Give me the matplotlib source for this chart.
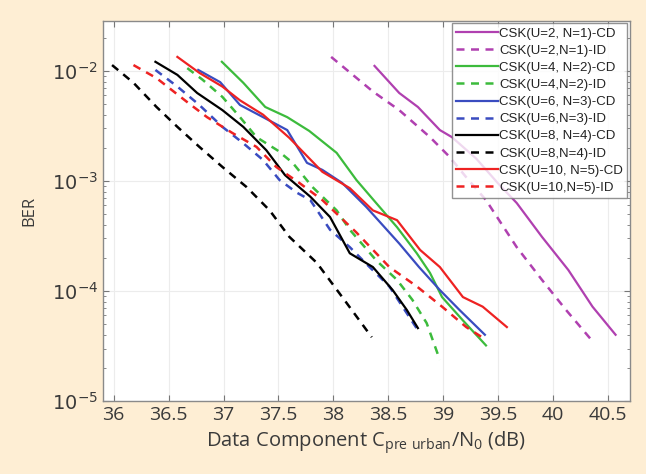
import matplotlib.pyplot as plt
from matplotlib.ticker import LogLocator, NullFormatter

# --- data (x in dB, BER) ---
x_u2_cd = [38.375, 38.60, 38.77, 38.97, 39.08, 39.30, 39.50, 39.67, 39.90, 40.14, 40.36, 40.57]
y_u2_cd = [1.11e-2, 6.3e-3, 4.7e-3, 2.9e-3, 2.5e-3, 1.6e-3, 9.5e-4, 6.3e-4, 3.1e-4, 1.55e-4, 7.2e-5, 4.0e-5]
x_u2_id = [37.98, 38.36, 38.60, 38.88, 39.06, 39.22, 39.39, 39.67, 39.90, 40.12, 40.37]
y_u2_id = [1.34e-2, 6.5e-3, 4.4e-3, 2.5e-3, 1.65e-3, 1.05e-3, 6.7e-4, 2.5e-4, 1.26e-4, 6.7e-5, 3.4e-5]

x_u4_cd = [36.985, 37.18, 37.38, 37.58, 37.78, 38.03, 38.21, 38.39, 38.58, 38.76, 38.88, 38.99, 39.18, 39.39]
y_u4_cd = [1.21e-2, 7.8e-3, 4.7e-3, 3.8e-3, 2.85e-3, 1.8e-3, 1.02e-3, 6.3e-4, 3.8e-4, 2.2e-4, 1.46e-4, 8.8e-5, 5.4e-5, 3.2e-5]
x_u4_id = [36.67, 36.81, 36.99, 37.15, 37.30, 37.49, 37.63, 37.81, 38.03, 38.15, 38.39, 38.58, 38.72, 38.85, 38.97]
y_u4_id = [1.06e-2, 8.3e-3, 5.8e-3, 3.8e-3, 2.5e-3, 1.9e-3, 1.46e-3, 8.8e-4, 5.4e-4, 3.6e-4, 1.9e-4, 1.26e-4, 8.3e-5, 5.1e-5, 2.36e-5]

x_u6_cd = [36.77, 36.97, 37.15, 37.36, 37.58, 37.76, 37.90, 38.08, 38.30, 38.60, 38.78, 38.97, 39.15, 39.38]
y_u6_cd = [1.02e-2, 7.9e-3, 4.9e-3, 3.8e-3, 2.9e-3, 1.46e-3, 1.26e-3, 9.6e-4, 5.8e-4, 2.7e-4, 1.65e-4, 1.02e-4, 6.7e-5, 4.0e-5]
x_u6_id = [36.38, 36.58, 36.78, 36.99, 37.18, 37.36, 37.51, 37.67, 37.79, 37.97, 38.15, 38.33, 38.51, 38.63, 38.77]
y_u6_id = [1.02e-2, 7.2e-3, 4.9e-3, 3.1e-3, 2.2e-3, 1.55e-3, 1.02e-3, 7.8e-4, 6.7e-4, 3.6e-4, 2.5e-4, 1.65e-4, 1.1e-4, 7.2e-5, 4.4e-5]

x_u8_cd = [36.38, 36.58, 36.76, 36.99, 37.18, 37.39, 37.56, 37.79, 37.97, 38.15, 38.36, 38.54, 38.67, 38.77]
y_u8_cd = [1.21e-2, 9.2e-3, 6.3e-3, 4.4e-3, 3.1e-3, 1.9e-3, 1.13e-3, 7.2e-4, 4.7e-4, 2.2e-4, 1.65e-4, 1.02e-4, 6.7e-5, 4.6e-5]
x_u8_id = [35.985, 36.18, 36.39, 36.58, 36.78, 36.99, 37.21, 37.42, 37.60, 37.85, 38.12, 38.35]
y_u8_id = [1.13e-2, 7.8e-3, 4.7e-3, 3.1e-3, 2.04e-3, 1.34e-3, 8.8e-4, 5.4e-4, 3.1e-4, 1.8e-4, 7.8e-5, 3.8e-5]

x_u10_cd = [36.58, 36.78, 36.99, 37.15, 37.36, 37.60, 37.90, 38.15, 38.36, 38.58, 38.79, 38.97, 39.18, 39.36, 39.58]
y_u10_cd = [1.34e-2, 9.6e-3, 7.2e-3, 5.4e-3, 4.0e-3, 2.46e-3, 1.21e-3, 8.6e-4, 5.4e-4, 4.4e-4, 2.36e-4, 1.65e-4, 8.8e-5, 7.2e-5, 4.7e-5]
x_u10_id = [36.18, 36.39, 36.67, 36.85, 37.08, 37.30, 37.48, 37.69, 37.90, 38.21, 38.51, 38.76, 38.99, 39.21, 39.39]
y_u10_id = [1.13e-2, 8.6e-3, 5.2e-3, 3.8e-3, 2.73e-3, 2.04e-3, 1.34e-3, 9.6e-4, 6.7e-4, 3.4e-4, 1.65e-4, 1.1e-4, 7.2e-5, 4.7e-5, 3.6e-5]

x_ticks = [36, 36.5, 37, 37.5, 38, 38.5, 39, 39.5, 40, 40.5]
x_ticklabels = ["36", "36.5", "37", "37.5", "38", "38.5", "39", "39.5", "40", "40.5"]

SERIES = [
    (x_u2_cd, y_u2_cd, "#B040B0", "-", "CSK(U=2, N=1)-CD"),
    (x_u2_id, y_u2_id, "#B040B0", "--", "CSK(U=2,N=1)-ID"),
    (x_u4_cd, y_u4_cd, "#3CBB3C", "-", "CSK(U=4, N=2)-CD"),
    (x_u4_id, y_u4_id, "#3CBB3C", "--", "CSK(U=4,N=2)-ID"),
    (x_u6_cd, y_u6_cd, "#3A4CC0", "-", "CSK(U=6, N=3)-CD"),
    (x_u6_id, y_u6_id, "#3A4CC0", "--", "CSK(U=6,N=3)-ID"),
    (x_u8_cd, y_u8_cd, "#000000", "-", "CSK(U=8, N=4)-CD"),
    (x_u8_id, y_u8_id, "#000000", "--", "CSK(U=8,N=4)-ID"),
    (x_u10_cd, y_u10_cd, "#EE2222", "-", "CSK(U=10, N=5)-CD"),
    (x_u10_id, y_u10_id, "#EE2222", "--", "CSK(U=10,N=5)-ID"),
]

BG = "#FEEED4"
TXT = "#3a3a3a"

plt.rcParams["mathtext.fontset"] = "custom"
plt.rcParams["mathtext.rm"] = "Open Sans"
plt.rcParams["mathtext.it"] = "Open Sans"

fig = plt.figure(figsize=(6.46, 4.74), dpi=100, facecolor=BG)
ax = fig.add_axes([0.159, 0.154, 0.816, 0.802])
ax.set_facecolor("white")

for xs, ys, c, ls, lab in SERIES:
    if ls == "--":
        ax.plot(xs, ys, color=c, lw=1.8, ls=(0, (3.2, 2.6)), label=lab)
    else:
        ax.plot(xs, ys, color=c, lw=1.6, ls="-", label=lab)

ax.set_yscale("log")
ax.set_xlim(35.9, 40.7)
ax.set_ylim(1e-5, 0.0285)
ax.set_xticks(x_ticks)
ax.set_xticklabels(x_ticklabels)
ax.yaxis.set_major_locator(LogLocator(base=10, numticks=10))
ax.yaxis.set_minor_locator(LogLocator(base=10, subs=range(2, 10), numticks=10))
ax.yaxis.set_minor_formatter(NullFormatter())

ax.grid(True, which="major", color="#ececec", lw=0.8)
ax.tick_params(which="both", direction="in", top=True, right=True, colors="#777777",
               labelcolor=TXT, labelsize=14)
ax.tick_params(which="major", length=4)
ax.tick_params(which="minor", length=2)
for lbl in ax.get_xticklabels():
    lbl.set_family("Open Sans")
for s in ax.spines.values():
    s.set_color("#8a8a8a")
    s.set_linewidth(1.0)

ax.set_xlabel(r"Data Component C$_{\mathrm{pre\ urban}}$/N$_0$ (dB)",
              fontsize=14.5, color=TXT, family="Open Sans", labelpad=4)
ax.set_ylabel("BER", fontsize=12, color=TXT, family="Open Sans", labelpad=10)

leg = ax.legend(loc="upper right", handlelength=3.2, handletextpad=0.1,
                labelspacing=0.37, borderpad=0.3, borderaxespad=0.2,
                frameon=True, fancybox=False, prop={"family": "Liberation Sans", "size": 9.5})
leg.get_frame().set_edgecolor("#777777")
leg.get_frame().set_linewidth(1.0)
for t in leg.get_texts():
    t.set_color("#222222")

fig.savefig("out.png", dpi=100, facecolor=BG)
